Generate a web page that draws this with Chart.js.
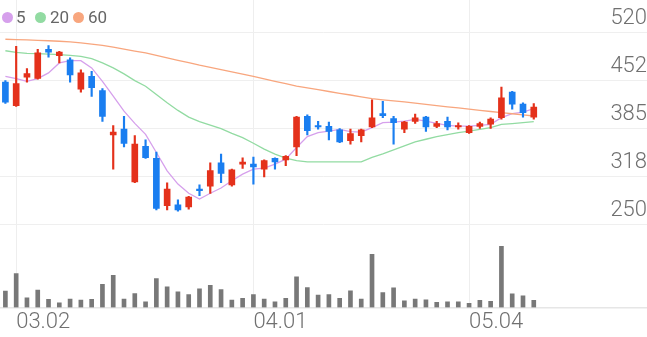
<!DOCTYPE html>
<html>
<head>
<meta charset="utf-8">
<script src="https://cdn.jsdelivr.net/npm/chart.js@4.4.1/dist/chart.umd.min.js"></script>
<style>
  html, body { margin: 0; padding: 0; background: #fff; }
  #wrap { position: relative; width: 647px; height: 337px; }
  .dot { position: absolute; top: 11.5px; width: 11px; height: 11px; border-radius: 50%; }
  .lg { position: absolute; top: 6px; font: 17px Roboto, sans-serif; color: #666; line-height: 22px; }
</style>
</head>
<body>
<div id="wrap">
  <canvas id="myChart" width="647" height="337"></canvas>
  <span class="dot" style="left:1.5px;background:#d6a0ec"></span><span class="lg" style="left:16px">5</span>
  <span class="dot" style="left:34.5px;background:#92dba2"></span><span class="lg" style="left:50px">20</span>
  <span class="dot" style="left:72.5px;background:#f8a67e"></span><span class="lg" style="left:88px">60</span>
</div>
<script>
const dates = ['02.28','03.02','03.03','03.04','03.05','03.06','03.09','03.10','03.11','03.12',
  '03.13','03.16','03.17','03.18','03.19','03.20','03.23','03.24','03.25','03.26',
  '03.27','03.30','03.31','04.01','04.02','04.03','04.06','04.07','04.08','04.09',
  '04.10','04.13','04.14','04.16','04.17','04.20','04.21','04.22','04.23','04.24',
  '04.27','04.28','04.29','05.04','05.06','05.07','05.08','05.11','05.12','05.13'];
const emptySlots = 10;

const opens  = [450,417,457,455,496,487,481,440,458,438,376,384,310,360,343,277,278,275,300,304,
  337,306,335,335,328,343,341,359,402,389,388,383,368,375,387,406,399,384,395,401,
  388,395,387,379,388,391,400,436,419,401];
const highs  = [452,500,469,496,501,493,484,467,465,441,389,402,375,369,352,309,285,290,306,337,
  349,328,344,345,341,344,347,402,404,395,394,385,384,384,425,423,402,395,405,402,
  395,401,393,389,394,400,443,437,421,420];
const lows   = [420,416,450,454,485,477,450,436,430,395,328,359,309,343,271,271,269,272,291,294,
  309,304,329,307,317,328,333,347,376,384,369,365,363,366,386,400,363,379,392,381,
  386,383,384,378,385,385,398,412,401,398];
const closes = [422,448,462,491,492,492,460,463,442,402,380,364,363,344,273,300,271,289,298,326,
  322,327,338,331,340,338,346,401,382,387,381,366,378,383,400,403,393,394,400,387,
  392,387,389,388,392,398,428,419,407,415];

const ma5  = [458.1,454.9,451.1,454.9,462.8,476.8,480,480,469.8,451.1,430.2,409.3,392.2,376.8,351.3,325.7,307.1,294.2,286.2,294.2,
  301.6,311.7,321.1,328,329.4,335,342,358.3,373.6,379.2,381.4,383.8,380.6,380,386.2,393.1,394,395.4,397.7,395.4,
  392.2,389.4,388.4,388.4,389.4,390.8,400.1,405.7,407.9,412.7];
const ma20 = [493.9,491.6,490.2,489.8,489.3,488.4,487.4,486,482.8,476.8,469.8,461.5,452.1,444.2,432.6,421,410.3,401,394.5,389.8,
  384.8,378.2,372.2,364.3,356,349,343.4,339.9,338.2,338.2,338.2,338.2,338.2,338.2,344.4,349.3,355,360.6,366.1,369.9,
  373.6,376.4,379.2,381.4,383.8,386.2,390.8,391.8,393.1,394.5];
const ma60 = [510,509.5,509,508.4,507.9,507.2,506.3,504.8,503.3,501.5,499,496.3,493.5,490.9,487.4,484,480.5,477.1,473.7,470.7,
  467.4,464.2,461.2,458,454.6,451.1,447.8,444.4,441.9,439.3,436.8,434.3,431.9,429.4,426.9,425.2,423.8,422.3,420.6,418.8,
  417.1,415.4,413.8,412.1,410.4,408.8,407.1,405.6,404,402.5];

const volumes = [163,340,97,173,80,47,83,73,80,233,323,83,140,57,290,207,157,130,187,223,
  180,73,90,130,83,57,90,307,200,123,130,90,167,83,533,150,197,67,83,77,
  50,57,57,40,70,60,613,137,117,70];

const priceTicks = [250, 317.5, 385, 452.5, 520];
const priceTickLabels = ['250', '318', '385', '452', '520'];
const dateTicks = ['03.02', '04.01', '05.04'];

window.onload = function() {
  var ctx = document.getElementById('myChart').getContext('2d');

  const labels = dates.concat(new Array(emptySlots).fill(''));
  const candleColors = opens.map((o, i) => closes[i] >= o ? '#e4311b' : '#1a7ef0');
  const font = { family: 'Roboto', size: 22, weight: '300' };

  new Chart(ctx, {
    data: {
      labels: labels,
      datasets: [
        {
          type: 'bar', order: 0, yAxisID: 'y', grouped: false,
          data: opens.map((o, i) => [o, closes[i]]),
          backgroundColor: candleColors, barThickness: 6, minBarLength: 1.5
        },
        {
          type: 'bar', order: 1, yAxisID: 'y', grouped: false,
          data: lows.map((l, i) => [l, highs[i]]),
          backgroundColor: candleColors, barThickness: 1.5
        },
        { type: 'line', order: 2, yAxisID: 'y', data: ma60, borderColor: '#f8a67e', borderWidth: 1.3, pointRadius: 0 },
        { type: 'line', order: 2, yAxisID: 'y', data: ma20, borderColor: '#92dba2', borderWidth: 1.3, pointRadius: 0 },
        { type: 'line', order: 2, yAxisID: 'y', data: ma5, borderColor: '#d6a0ec', borderWidth: 1.3, pointRadius: 0 },
        {
          type: 'bar', order: 3, yAxisID: 'v', grouped: false,
          data: volumes, backgroundColor: '#787878', barThickness: 4
        }
      ]
    },
    options: {
      responsive: false,
      animation: false,
      layout: { padding: 0 },
      plugins: { legend: { display: false }, tooltip: { enabled: false } },
      scales: {
        x: {
          type: 'category',
          offset: true,
          grid: {
            offset: false,
            drawTicks: false,
            color: c => dateTicks.includes(labels[c.index]) ? '#eeeeee' : 'rgba(0,0,0,0)'
          },
          border: { display: true, color: '#e6e6e6', width: 1.5 },
          ticks: {
            autoSkip: false, maxRotation: 0, align: 'start', padding: 1.6,
            color: '#707070', font: font,
            callback: (v, i) => dateTicks.includes(labels[i]) ? labels[i] : ''
          }
        },
        y: {
          position: 'right',
          min: 134.3,
          max: 565,
          afterBuildTicks: axis => { axis.ticks = priceTicks.map(v => ({ value: v })); },
          // labels sit inside the plot, so no extra room above/below
          afterFit: axis => { axis.paddingTop = 0; axis.paddingBottom = 0; },
          grid: { color: '#efefef', drawTicks: false },
          border: { display: false },
          ticks: {
            mirror: true, padding: 0, labelOffset: -14,
            color: '#707070', font: font,
            callback: (v, i) => priceTickLabels[i]
          }
        },
        v: {
          display: false,
          min: 0,
          max: 3090
        }
      }
    }
  });
};
</script>
</body>
</html>
